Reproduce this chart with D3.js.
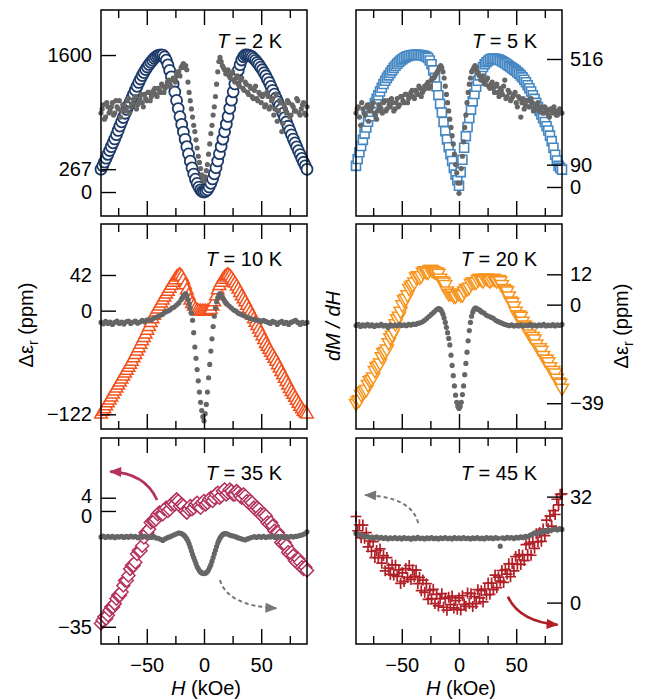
<!DOCTYPE html>
<html>
<head>
<meta charset="utf-8">
<script src="https://cdn.jsdelivr.net/npm/d3@7"></script>
<style>
  body { margin: 0; background: #fff; }
</style>
</head>
<body>
<svg id="chart" width="646" height="699"></svg>
<script>
// field grids (kOe)
const fieldA = [-90,-88.5,-87,-85.5,-84,-82.5,-81,-79.5,-78,-76.5, -75,-73.5,-72,-70.5,-69,-67.5,-66,-64.5,-63,-61.5,
  -60,-58.5,-57,-55.5,-54,-52.5,-51,-49.5,-48,-46.5, -45,-43.5,-42,-40.5,-39,-37.5,-36,-34.5,-33,-31.5,
  -30,-28.5,-27,-25.5,-24,-22.5,-21,-19.5,-18,-16.5, -15,-13.5,-12,-10.5,-9,-7.5,-6,-4.5,-3,-1.5,
  0,1.5,3,4.5,6,7.5,9,10.5,12,13.5, 15,16.5,18,19.5,21,22.5,24,25.5,27,28.5,
  30,31.5,33,34.5,36,37.5,39,40.5,42,43.5, 45,46.5,48,49.5,51,52.5,54,55.5,57,58.5,
  60,61.5,63,64.5,66,67.5,69,70.5,72,73.5, 75,76.5,78,79.5,81,82.5,84,85.5,87,88.5, 90];
const fieldB = [-90,-88,-86,-84,-82,-80,-78,-76,-74,-72, -70,-68,-66,-64,-62,-60,-58,-56,-54,-52,
  -50,-48,-46,-44,-42,-40,-38,-36,-34,-32, -30,-28,-26,-24,-22,-20,-18,-16,-14,-12,
  -10,-8,-6,-4,-2,0,2,4,6,8, 10,12,14,16,18,20,22,24,26,28, 30,32,34,36,38,40,42,44,46,48,
  50,52,54,56,58,60,62,64,66,68, 70,72,74,76,78,80,82,84,86,88, 90];
const fieldC = [-89,-87,-85,-83,-81,-79,-77,-75,-73,-71, -69,-67,-65,-63,-61,-59,-57,-55,-53,-51,
  -49,-47,-45,-43,-41,-39,-37,-35,-33,-31, -29,-27,-25,-23,-21,-19,-17,-15,-13,-11,
  -9,-7,-5,-3,-1,1,3,5,7,9, 11,13,15,17,19,21,23,25,27,29, 31,33,35,37,39,41,43,45,47,49,
  51,53,55,57,59,61,63,65,67,69, 71,73,75,77,79,81,83,85,87,89];
const fieldD = [-19,-17,-15,-13,-11,-9,-7,-5,-3,-1, 1,3,5,7,9,11,13,15,17,19];

// dielectric change (ppm) on fieldA
const eps2K = [267,308,350,395,440,485,530,575,620,670, 720,770,820,870,920,965,1010,1055,1100,1145,
  1190,1235,1280,1320,1360,1395,1430,1460,1490,1515, 1540,1562,1580,1592,1600,1602,1600,1578,1540,1485,
  1420,1345,1260,1168,1070,975,880,790,700,615, 530,445,360,282,210,150,100,58,25,7,
  0,8,26,60,102,153,213,285,363,448, 533,618,703,793,883,978,1073,1170,1262,1347,
  1422,1487,1542,1580,1601,1603,1600,1591,1578,1560, 1538,1513,1488,1458,1428,1393,1358,1318,1278,1233,
  1188,1143,1098,1053,1008,963,918,868,818,768, 718,668,618,573,528,483,438,393,348,306, 265];
const eps5K = [85,113,140,165,190,215,240,263,285,303, 320,338,355,370,385,400,415,428,440,450,
  460,470,480,489,497,504,510,515,520,524, 527,529,531,532,533,533,533,532,531,530,
  528,525,520,510,495,470,440,405,370,335, 300,262,225,192,160,132,105,77,50,27,
  5,60,110,158,205,242,278,312,345,375, 404,428,450,468,484,495,503,509,514,517,
  518,517,516,514,511,507,503,499,494,489, 484,479,474,469,463,457,450,442,432,422,
  410,398,385,370,355,339,322,307,292,277, 262,245,228,207,185,158,130,107,85,77, 70];
const eps10K = [-122,-119,-116,-112.5,-109,-105.5,-102,-98.5,-95,-91.5, -88,-84.5,-81,-77.5,-74,-70.5,-67,-63.5,-60,-56,
  -52,-48,-44,-40,-36,-32,-28,-23.5,-19,-14.5, -10,-6,-2,1.5,5,8.5,12,15.5,19,22.5,
  26,29.5,33,36,39,41,42,40,36,30, 24,18,12,8,5,2,0,-0.5,-1,-1,
  -1,-1,-1,0,1,5,10,17,24,29, 33,36.5,39,41,42,40.5,38,35,32,28.5,
  25,21,17,13.5,10,6,2,-2,-6,-10, -14,-18,-22,-26,-30,-34.5,-39,-42.5,-46,-49.5,
  -53,-56.5,-60,-64,-68,-72,-76,-80,-84,-88, -92,-95.5,-99,-102.5,-106,-109.5,-113,-116,-119,-120.5, -122];
const eps20K = [-39,-38,-37.5,-35.5,-34.5,-34,-33.5,-31.5,-30,-29.5, -28.5,-26,-24.5,-24,-23,-20.5,-19,-18.5,-17.5,-15,
  -13,-12,-10.5,-7.5,-5.5,-4.5,-2.5,0,2,2.5, 4,6.5,7.5,8,9,11,11.5,11,11.5,13,
  13.5,13,13,14,14,13.5,13,13,12.5,10.5, 9.5,9,8,5.5,4.5,4.5,4.5,3.5,3.5,4.5,
  4.5,4,4,5.5,6.5,6.5,7,8.5,9,9, 9,10,10.5,10,9.5,10.5,10.5,10,9.5,10,
  10.5,10,9.5,10,9.5,8,6.5,6,5.5,3.5, 1.5,1,-0.5,-2.5,-4,-4,-4.5,-6.5,-8,-8.5,
  -9.5,-11.5,-12.5,-12.5,-13.5,-15.5,-17,-17,-18,-20, -21.5,-21.5,-22.5,-24.5,-26,-26,-27,-29,-30.5,-31, -33];
const eps35K = [-34,-33,-32,-32.5,-31.5,-30,-29,-29,-28,-26.5, -25.5,-25.5,-24.5,-22.5,-21,-21,-19.5,-17.5,-16.5,-16.5,
  -15.5,-13,-12,-12,-10.5,-8,-6.5,-6.5,-5.5,-3.5, -3,-3,-2.5,-1,-0.5,-1,-1,0.5,1,0,
  0.5,2,2.5,2,3.5,3,1.5,2,1.5,0, -0.5,0.5,1.5,0.5,1,2,2.5,1.5,1,2.5,
  3,2,2.5,3.5,4,3,4,5,5.5,4, 4.5,6,6.5,5,5.5,6.5,6,5,5,6,
  5.5,4.5,4,5,4.5,3,2.5,3,2.5,1, 0.5,1,0.5,-1,-1.5,-1,-1.5,-3.5,-4,-3.5,
  -4.5,-6,-6.5,-6.5,-7.5,-9.5,-10,-9.5,-10.5,-12.5, -13,-12.5,-13.5,-15,-15.5,-14.5,-15.5,-17,-17.5,-17, -18];
const eps45K = [26,21.7,23.5,19.6,23.4,19.4,21.1,16.8,18.6,15.5, 18.4,13.6,15.7,13.6,16.2,11.9,14.2,9.6,13.6,10.4,
  8.5,11.4,8.3,11.3,7.9,9.9,5.8,9,6.4,10.3, 7.6,11.2,7,9.9,7.9,9.8,5.7,7.6,3.6,6.8,
  3.1,5.7,1,3.7,1.2,4,-0.3,2.5,-1,1.2, 2.7,-1.4,1.3,-2.3,1.6,-0.6,2,-1.6,0.6,-2,
  1.4,-2.2,2.1,-0.5,-1.1,2.9,-0.3,2.7,-1.2,1.8, -0.3,3.9,1.4,3.6,0.2,4.1,2.3,5.9,2.5,5.9,
  3.9,8.3,4.5,7.7,6.5,9.7,6.1,10,8.6,11.7, 7.8,11.8,9.6,13.9,11.6,14.5,11.5,14.3,12.7,17.5,
  14.5,17.9,14.3,18.3,16.4,20.8,18.4,21.2,18.5,22.2, 20.2,24.9,22.3,26.1,23.1,27.8,26.6,31.2,29.5,32.7, 32.8];

// dM/dH (arb. units, 0-100 over the panel height) on fieldB, extra sweeps on fieldC / fieldD
const dmdh2K = [50,54,48,53,51,55,50,53,56,51, 54,52,57,53,55,58,54,57,55,59,
  56,60,58,61,59,62,60,63,62,65, 64,66,67,69,70,72,74,73,65,56,
  48,41,33,26,20,17,22,30,40,49, 58,70,77,73,71,70,68,69,66,67,
  64,66,62,65,60,63,58,61,57,60, 55,59,54,58,53,57,52,46,56,41,
  54,50,55,49,53,51,56,49,54,50, 53];
const dmdh2Kb = [52,47,55,50,53,49,56,52,48,54, 51,56,50,54,57,52,55,59,53,57,
  60,56,59,62,58,61,64,60,63,66, 63,67,65,70,68,73,72,71,60,52,
  44,37,29,23,18,19,25,35,44,53, 64,75,75,72,69,71,67,70,65,68,
  63,67,61,64,59,62,57,63,56,59, 58,53,60,52,56,49,59,51,55,45,
  52,56,48,54,51,57,50,52,55,49];
const dmdh5K = [50,53,44,52,49,54,51,53,50,47, 54,52,55,51,56,53,55,52,57,54,
  58,55,59,57,60,58,61,59,62,60, 63,64,62,66,67,69,71,73,70,63,
  55,47,39,30,21,11,23,36,49,60, 67,71,73,70,68,67,65,66,63,64,
  62,63,60,62,59,66,58,60,57,59, 55,58,48,57,54,56,53,55,52,54,
  51,53,50,52,49,52,50,51,49,52, 50];
const dmdh5Kb = [52,48,55,50,53,46,52,55,49,51, 53,50,56,52,54,57,51,55,53,58,
  56,59,55,58,61,57,60,63,58,61, 62,65,63,67,68,70,72,72,67,59,
  51,43,35,25,16,16,29,43,55,64, 70,72,72,69,66,68,64,67,62,65,
  60,64,58,61,63,57,61,56,58,60, 53,57,55,52,56,53,57,51,53,55,
  52,50,53,51,48,51,53,49,51,50];
const dmdh10K = [52,51.3,52.5,51.5,52.2,51,52,52.6,51.5,52.1, 51.2,52.3,52.6,51.5,52.2,52.6,51.6,52.2,53,52.3,
  53.1,53.4,53.1,54,54.5,55,55.5,56,57,57.5, 58,59,59.5,60.5,61.5,63,65,66,63,59,
  53,40,29,18,9,4,12,25,38,50, 59,64,66,64.5,62.5,61,60,59,58,57.5,
  56.5,56,55.5,55,54.5,54,53.5,53.5,53,53, 52.5,53,52.5,52,51.5,52.5,52,51,52,52.5,
  51.5,52,51,52,52.5,53,52,51,52,51.5, 52];
const dmdh10Kb = [64,65.5,65,61,56.5,47,34.5,23.5,13,6, 7.5,18,31.5,44,55,62,65.5,65.5,63.5,61.5];
const dmdh20K = [50.5,51,50,50.8,50.2,51,50.3,50.8,50,50.7, 50.4,51,50.2,50.6,49.5,50.8,50.3,50.7,50.4,51,
  50.5,50.8,50.4,51,50.7,51.2,51,51.5,51.8,52.3, 53,54,55,56,57,58,58.7,58.2,56,52,
  47,41,31,21,13,10,13,21,32,43, 52,57,59,58.5,58,57,56.5,55.5,55,54.5,
  54,53,52.5,52,51.5,51,50.7,50.4,50.8,50.2, 50.6,50.3,50.8,50.2,50.6,50.4,50.9,50.3,50.7,50.2,
  50.8,50.4,51,50.3,50.7,50.4,50.9,50.3,50.8,50.5, 51];
const dmdh20Kb = [58.4,58.6,57.3,54.2,49.6,44.2,36,26,16.5,11, 11,16.8,26.5,37.5,48,55,58.3,59,58.3,57.5];
const dmdh35K = [52,52.4,51.7,52.2,51.8,52.3,51.6,52.1,51.9,52.3, 51.7,52.2,51.8,52.4,51.9,52.2,51.6,52.1,51.8,52.3,
  51.9,52,51.7,52.2,51.5,51.3,50.8,50.3,51,51.6, 52,52.5,53,53.5,54,53.7,53,51.8,50,47,
  43.5,40.5,37.5,35.5,34.5,34.2,34.6,36,38.5,42, 45.5,49,51.5,53,53.6,53.5,53,52.6,52.4,52,
  51.5,51.2,50.8,50.5,51,51.4,51.8,52.1,51.7,52.2, 51.8,52.3,51.7,52.1,51.9,52.3,51.7,52.2,51.9,52.3,
  51.7,52.1,51.8,52.3,51.9,52.2,52.4,52.7,53,53.5, 54.5];
const dmdh35Kb = [53.4,52.5,51,48.6,45.3,42,39,36.5,35,34.3, 34.4,35.2,37.2,40.2,43.8,47.3,50.3,52.3,53.3,53.6];
const dmdh45K = [53.7,53.2,52.9,52.4,52.1,52.3,51.7,51.9,51.5,52, 51.3,51.8,51.2,51.6,51,51.5,51.2,51.7,51.1,51.5,
  51,51.6,51.2,51.4,50.9,51.5,51.1,51.8,51.2,51.4, 51,51.5,51.2,51.6,51.1,51.4,51,51.5,51.2,51.7,
  51.1,51.4,51,51.6,51.2,51.5,51.1,51.6,51.2,51.4, 51,51.5,51.2,51.7,51.1,51.4,51,51.6,51.3,51.5,
  51.1,51.7,51.3,47.5,51.5,51.2,51.8,51.4,51.7,51.2, 51.8,51.5,52,51.6,52.3,52,52.7,53.2,54,53.5,
  54.5,54,55,54.5,55.4,55,55.6,55.8,55.4,56, 55.6];

const temps = ['2', '5', '10', '20', '35', '45'];
const epsTicks = [[0, 267, 1600], [0, 90, 516], [-122, 0, 42], [-39, 0, 12], [-35, 0, 4], [0, 32]];
const majorField = [-50, 0, 50];
const minorField = [-75, -25, 25, 75];

// curved arrows, [H, eps] in the panel's eps units
const arrows35K = [
  {from: [-41, 3.3], via: [-51.4, 11.5], to: [-82, 11.9], dashed: false},
  {from: [13.9, -20.9], via: [20.9, -28.7], to: [63.3, -29.4], dashed: true}
];
const arrows45K = [
  {from: [-35.7, 24], via: [-41.2, 31.9], to: [-82.1, 32.5], dashed: true},
  {from: [42.7, 1.8], via: [52.9, -5.8], to: [86.2, -6.7], dashed: false}
];

const font = '"Liberation Sans", Arial, Helvetica, sans-serif';
const colX = [[101, 307], [356, 562]];
const rowY = [[10, 216], [224, 429], [438, 644]];
const grey = '#666666';

const panels = [
  {i: 0, col: 0, row: 0, eps: eps2K, dmdh: [[fieldB, dmdh2K], [fieldC, dmdh2Kb]], dom: [-280, 2126],
    shape: 'circle', color: '#1d3a69', sw: 1.8},
  {i: 1, col: 1, row: 0, eps: eps5K, dmdh: [[fieldB, dmdh5K], [fieldC, dmdh5Kb]], dom: [-117, 713.5],
    shape: 'square', color: '#4487c2', sw: 1.6},
  {i: 2, col: 0, row: 1, eps: eps10K, dmdh: [[fieldB, dmdh10K], [fieldD, dmdh10Kb]], dom: [-139.3, 102],
    shape: 'up', color: '#f4511e', sw: 1.5},
  {i: 3, col: 1, row: 1, eps: eps20K, dmdh: [[fieldB, dmdh20K], [fieldD, dmdh20Kb]], dom: [-49.2, 31.9],
    shape: 'down', color: '#f7941d', sw: 1.5},
  {i: 4, col: 0, row: 2, eps: eps35K, dmdh: [[fieldB, dmdh35K], [fieldD, dmdh35Kb]], dom: [-40.2, 22.05],
    shape: 'diamond', color: '#b3305f', sw: 1.5, arrows: arrows35K, labelShift: {'4': -2, '0': 5}},
  {i: 5, col: 1, row: 2, eps: eps45K, dmdh: [[fieldB, dmdh45K]], dom: [-12.5, 49.7],
    shape: 'plus', color: '#b11f27', sw: 1.7, arrows: arrows45K}
];

const shapes = {
  circle: d3.symbol(d3.symbolCircle, 95)(),
  square: d3.symbol(d3.symbolSquare, 81)(),
  up: 'M0,-7.2L6.3,3.6L-6.3,3.6Z',
  down: 'M0,7.5L6.6,-3.8L-6.6,-3.8Z',
  diamond: 'M0,-6.5L6.5,0L0,6.5L-6.5,0Z',
  plus: 'M-5.5,0H5.5M0,-5.5V5.5'
};

const svg = d3.select('#chart').attr('font-family', font);
const defs = svg.append('defs');
[['headMag', '#b3305f'], ['headGrey', '#777'], ['headRed', '#b11f27']].forEach(([id, c]) => {
  defs.append('marker')
      .attr('id', id)
      .attr('viewBox', '0 0 12 10')
      .attr('refX', 11).attr('refY', 5)
      .attr('markerWidth', 13).attr('markerHeight', 10)
      .attr('markerUnits', 'userSpaceOnUse')
      .attr('orient', 'auto')
    .append('path')
      .attr('d', 'M0,0L12,5L0,10Z')
      .attr('fill', c);
});

const styleAxis = (g) => {
  g.select('.domain').remove();
  g.attr('font-family', font).attr('font-size', 20);
  g.selectAll('line').attr('stroke', '#000').attr('stroke-width', 1.4);
  g.selectAll('text').attr('fill', '#000');
};

panels.forEach(p => {
  const [x0, x1] = colX[p.col];
  const [y0, y1] = rowY[p.row];
  const x = d3.scaleLinear().domain([-90, 90]).range([x0, x1]);
  const y = d3.scaleLinear().domain(p.dom).range([y1, y0]);
  const yGrey = d3.scaleLinear().domain([0, 100]).range([y1, y0]);
  const g = svg.append('g');

  g.selectAll('path.eps')
    .data(p.eps)
    .join('path')
      .attr('class', 'eps')
      .attr('d', shapes[p.shape])
      .attr('transform', (v, i) => 'translate(' + x(fieldA[i]) + ',' + y(v) + ')')
      .attr('fill', p.shape === 'plus' ? 'none' : '#fff')
      .attr('stroke', p.color)
      .attr('stroke-width', p.sw);

  p.dmdh.forEach(([field, vals], k) => {
    g.selectAll('circle.dm' + k)
      .data(vals)
      .join('circle')
        .attr('class', 'dm' + k)
        .attr('cx', (v, i) => x(field[i]))
        .attr('cy', v => yGrey(v))
        .attr('r', 2.6)
        .attr('fill', grey);
  });

  (p.arrows || []).forEach(a => {
    const c = a.dashed ? '#777' : p.color;
    const head = a.dashed ? 'headGrey' : (p.i === 4 ? 'headMag' : 'headRed');
    g.append('path')
      .attr('d', 'M' + x(a.from[0]) + ',' + y(a.from[1]) +
                 'Q' + x(a.via[0]) + ',' + y(a.via[1]) + ' ' + x(a.to[0]) + ',' + y(a.to[1]))
      .attr('fill', 'none')
      .attr('stroke', c)
      .attr('stroke-width', a.dashed ? 2 : 2.6)
      .attr('stroke-dasharray', a.dashed ? '4,3' : null)
      .attr('marker-end', 'url(#' + head + ')');
  });

  g.append('rect')
    .attr('x', x0).attr('y', y0)
    .attr('width', x1 - x0).attr('height', y1 - y0)
    .attr('fill', 'none').attr('stroke', '#000').attr('stroke-width', 1.5);

  const lastRow = p.row === 2;
  g.append('g').attr('transform', 'translate(0,' + y1 + ')')
    .call(d3.axisBottom(x).tickValues(majorField).tickSizeInner(-15).tickSizeOuter(0)
      .tickPadding(14).tickFormat(lastRow ? d3.format('d') : ''))
    .call(styleAxis);
  g.append('g').attr('transform', 'translate(0,' + y1 + ')')
    .call(d3.axisBottom(x).tickValues(minorField).tickSizeInner(-8).tickSizeOuter(0).tickFormat(''))
    .call(styleAxis);
  g.append('g').attr('transform', 'translate(0,' + y0 + ')')
    .call(d3.axisTop(x).tickValues(majorField).tickSizeInner(-15).tickSizeOuter(0).tickFormat(''))
    .call(styleAxis);
  g.append('g').attr('transform', 'translate(0,' + y0 + ')')
    .call(d3.axisTop(x).tickValues(minorField).tickSizeInner(-8).tickSizeOuter(0).tickFormat(''))
    .call(styleAxis);

  const yAxis = p.col === 0 ? d3.axisLeft(y) : d3.axisRight(y);
  const yg = g.append('g').attr('transform', 'translate(' + (p.col === 0 ? x0 : x1) + ',0)')
    .call(yAxis.tickValues(epsTicks[p.i]).tickSizeInner(-15).tickSizeOuter(0)
      .tickPadding(p.col === 0 ? 9 : 8).tickFormat(d3.format('d')))
    .call(styleAxis);
  if (p.labelShift) {
    yg.selectAll('.tick text')
      .attr('transform', d => 'translate(0,' + (p.labelShift[String(d)] || 0) + ')');
  }

  const title = g.append('text')
    .attr('x', x1 - 25)
    .attr('y', y0 + (p.row === 0 ? 38 : 42))
    .attr('text-anchor', 'end')
    .attr('font-size', 20);
  title.append('tspan').attr('font-style', 'italic').text('T');
  title.append('tspan').text(' = ' + temps[p.i] + ' K');

  if (lastRow) {
    const lab = g.append('text')
      .attr('x', (x0 + x1) / 2 + 2)
      .attr('y', 695)
      .attr('text-anchor', 'middle')
      .attr('font-size', 20);
    lab.append('tspan').attr('font-style', 'italic').text('H');
    lab.append('tspan').text(' (kOe)');
  }
});

const epsLabel = (tx, ty) => {
  const t = svg.append('text')
    .attr('transform', 'translate(' + tx + ',' + ty + ') rotate(-90)')
    .attr('text-anchor', 'middle')
    .attr('font-size', 20);
  t.append('tspan').text('\u0394\u03b5');
  t.append('tspan').attr('font-size', 14).attr('dy', 5).text('r');
  t.append('tspan').attr('dy', -5).text(' (ppm)');
};
epsLabel(33, 325);
epsLabel(628, 326);

svg.append('text')
  .attr('transform', 'translate(340,326) rotate(-90)')
  .attr('text-anchor', 'middle')
  .attr('font-size', 20)
  .attr('font-style', 'italic')
  .text('dM / dH');
</script>
</body>
</html>
